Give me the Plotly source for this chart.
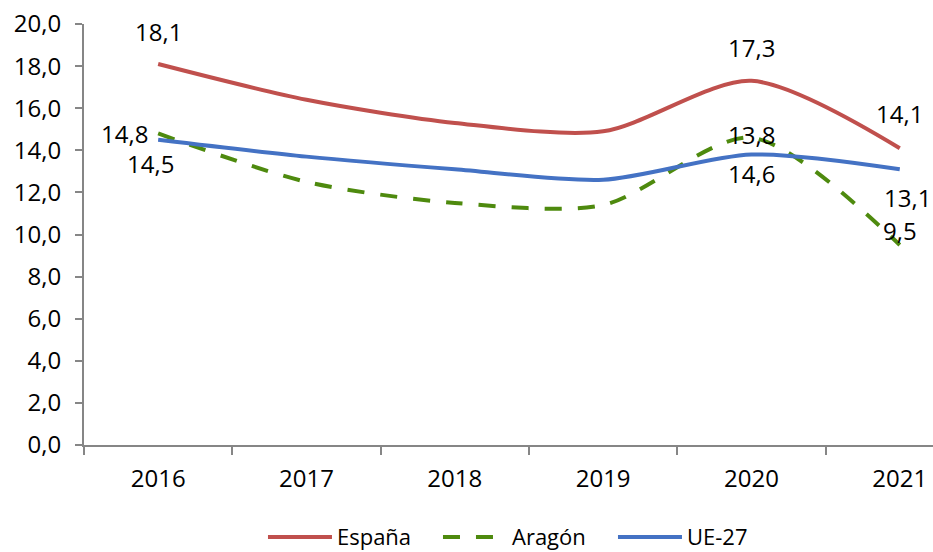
import plotly.graph_objects as go

years = ["2016", "2017", "2018", "2019", "2020", "2021"]
espana = [18.1, 16.4, 15.3, 14.9, 17.3, 14.1]
aragon = [14.8, 12.5, 11.5, 11.4, 14.6, 9.5]
ue27 = [14.5, 13.7, 13.1, 12.6, 13.8, 13.1]
y_ticks = [0, 2, 4, 6, 8, 10, 12, 14, 16, 18, 20]
y_tick_text = [f"{v:.1f}".replace(".", ",") for v in y_ticks]

FONT = "Open Sans"
fig = go.Figure()

series = [
    ("España", espana, "#C0504D", "solid"),
    ("Aragón", aragon, "#4E8A0E", "17px,16px"),
    ("UE-27", ue27, "#4472C4", "solid"),
]
for name, vals, color, dash in series:
    fig.add_trace(go.Scatter(
        x=years, y=vals, name=name, mode="lines",
        line=dict(color=color, width=4, dash=dash, shape="spline", smoothing=0.8),
    ))

# value labels: (series values, category index, x shift, y shift, anchor)
labels = [
    (espana, 0, 0, 32, "center"),
    (aragon, 0, -8, 0, "right"),
    (ue27, 0, -8, -24, "center"),
    (espana, 4, 0, 33, "center"),
    (ue27, 4, 0, 20, "center"),
    (aragon, 4, 0, -36, "center"),
    (espana, 5, 0, 35, "center"),
    (ue27, 5, 8, -28, "center"),
    (aragon, 5, 0, 15, "center"),
]
for vals, i, xs, ys, anchor in labels:
    fig.add_annotation(
        x=i, y=vals[i], xref="x", yref="y",
        text=f"{vals[i]:.1f}".replace(".", ","),
        showarrow=False, xshift=xs, yshift=ys, xanchor=anchor,
        font=dict(family=FONT, size=24, color="#000000"),
    )

fig.update_layout(
    width=933, height=552,
    margin=dict(l=84, r=0, t=24, b=107),
    paper_bgcolor="white", plot_bgcolor="white",
    font=dict(family=FONT, size=24, color="#000000"),
    showlegend=True,
    legend=dict(
        orientation="h", x=0.52, xanchor="center",
        yref="container", y=0.027, yanchor="middle",
        font=dict(family=FONT, size=22), itemwidth=64,
        entrywidth=96, entrywidthmode="pixels",
    ),
    xaxis=dict(
        type="category", range=[-0.5, 5.224],
        showline=True, linecolor="#868686", linewidth=2,
        ticks="outside", tickson="boundaries", ticklen=8, tickcolor="#868686", tickwidth=2,
        showgrid=False, zeroline=False, ticklabelstandoff=11,
    ),
    yaxis=dict(
        range=[0, 20], tickvals=y_ticks, ticktext=y_tick_text,
        showline=True, linecolor="#868686", linewidth=2,
        ticks="outside", ticklen=7, tickcolor="#868686", tickwidth=2,
        showgrid=False, zeroline=False, ticklabelstandoff=9,
    ),
)

fig.write_html("out.html")
